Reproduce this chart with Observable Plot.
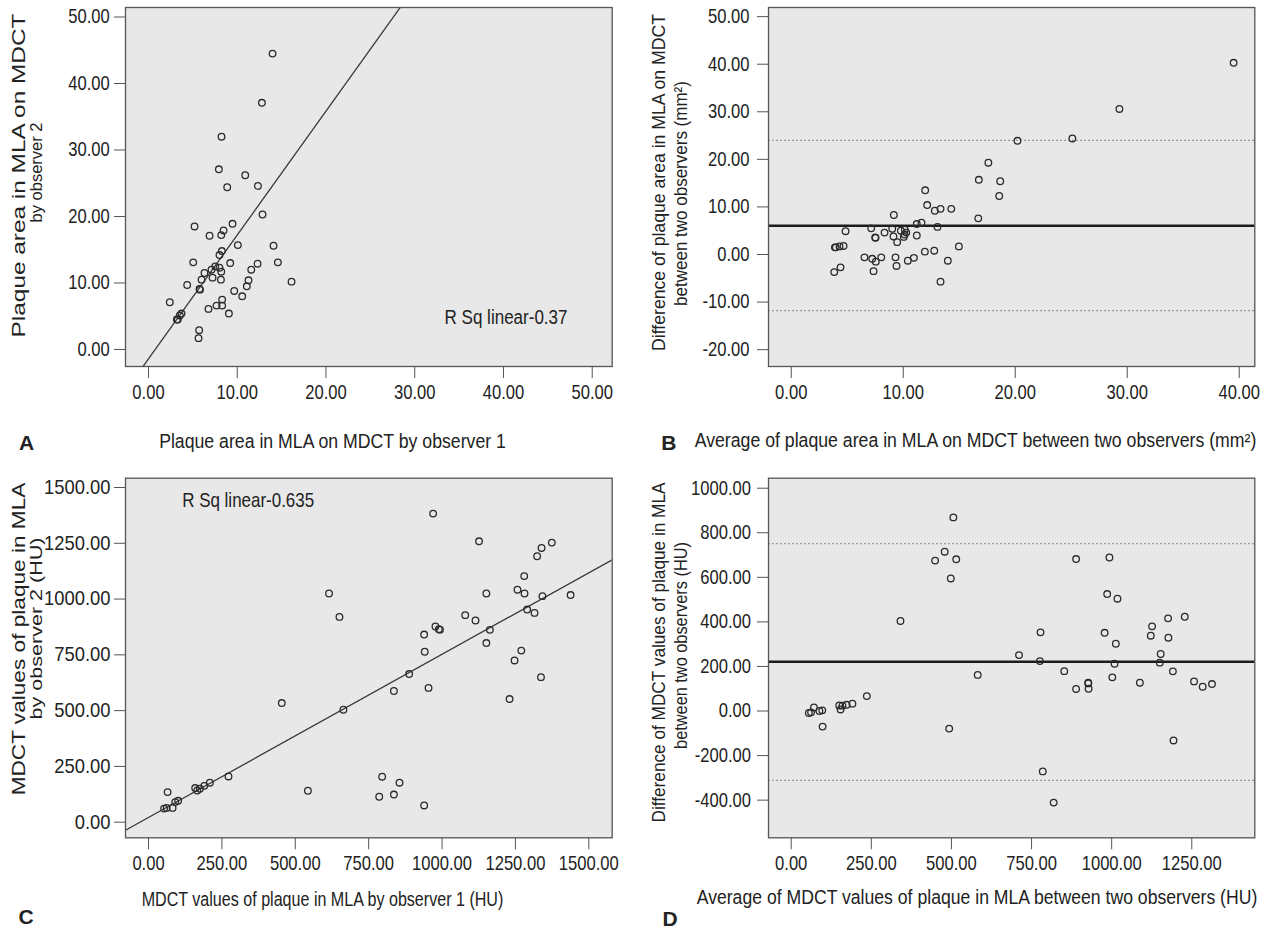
<!DOCTYPE html>
<html>
<head>
<meta charset="utf-8">
<script src="https://cdn.jsdelivr.net/npm/d3@7"></script>
<script src="https://cdn.jsdelivr.net/npm/@observablehq/plot@0.6"></script>
<style>
  body { margin: 0; background: #fff; }
  #fig { position: relative; width: 1264px; height: 932px; overflow: hidden; }
  #fig > svg { position: absolute; }
</style>
</head>
<body>
<div id="fig"></div>
<script>
// ---------- Panel A: plaque area, observer 1 vs observer 2 ----------
const aObs1 = [13.98, 12.78, 8.23, 7.93, 10.9, 12.33, 8.87, 12.85, 5.19, 9.47, 8.46, 8.2, 6.88, 10.07, 14.09, 8.27, 8.0, 5.04, 9.21, 14.58, 12.29, 7.52, 8.0, 7.1, 6.31, 11.58, 8.2, 7.22, 5.98, 8.16, 11.27, 16.12, 4.36, 11.08, 5.75, 5.8, 9.66, 10.56, 2.4, 8.3, 6.76, 7.67, 8.3, 9.06, 3.72, 3.53, 3.3, 3.2, 5.71, 5.64];
const aObs2 = [44.5, 37.1, 32.0, 27.1, 26.2, 24.6, 24.4, 20.3, 18.5, 18.9, 17.9, 17.2, 17.1, 15.7, 15.6, 14.8, 14.2, 13.1, 13.0, 13.1, 12.9, 12.5, 12.3, 12.0, 11.5, 12.0, 11.7, 10.8, 10.5, 10.5, 10.4, 10.2, 9.7, 9.5, 9.1, 9.0, 8.8, 8.0, 7.1, 7.5, 6.1, 6.6, 6.6, 5.4, 5.4, 5.1, 4.5, 4.5, 2.9, 1.7];
const aFit = {intercept: -1.41, slope: 1.863};
const aRsq = "R Sq linear-0.37";
const aXTicks = [0, 10, 20, 30, 40, 50];
const aYTicks = [0, 10, 20, 30, 40, 50];

// ---------- Panel B: Bland-Altman, plaque area ----------
const bAvg  = [39.5, 29.3, 25.1, 20.2, 17.6, 16.75, 18.66, 18.57, 11.96, 12.14, 12.82, 13.33, 14.29, 9.16, 16.7, 11.21, 11.63, 13.06, 7.14, 9.02, 10.14, 9.79, 4.85, 8.33, 10.27, 10.12, 9.13, 11.21, 10.05, 7.5, 7.53, 9.46, 4.67, 4.31, 3.98, 3.9, 14.97, 12.77, 11.93, 6.54, 7.23, 8.04, 9.31, 7.55, 10.95, 10.41, 13.98, 9.4, 4.4, 7.35, 3.84, 13.33];
const bDiff = [40.3, 30.6, 24.4, 23.9, 19.3, 15.7, 15.4, 12.3, 13.5, 10.4, 9.2, 9.6, 9.6, 8.3, 7.6, 6.4, 6.7, 5.8, 5.5, 5.4, 5.2, 5.0, 4.9, 4.6, 4.6, 4.2, 3.8, 4.0, 3.7, 3.6, 3.5, 2.6, 1.8, 1.7, 1.5, 1.5, 1.7, 0.8, 0.6, -0.6, -0.9, -0.6, -0.6, -1.5, -0.7, -1.3, -1.3, -2.4, -2.7, -3.5, -3.7, -5.7];
const bLimits = {mean: 6.03, upper: 24.0, lower: -11.8};
const bXTicks = [0, 10, 20, 30, 40];
const bYTicks = [-20, -10, 0, 10, 20, 30, 40, 50];

// ---------- Panel C: MDCT values (HU), observer 1 vs observer 2 ----------
const cObs1 = [969.6, 1126, 1374, 1339, 1324, 1280, 1257, 1281, 1151, 615, 1342, 1438, 650.5, 1079, 1114, 1290, 1315, 977.5, 989, 993, 1163, 939, 1151, 941, 1270, 1247, 888, 1337, 954, 836, 1230, 454, 664, 272.5, 796, 855, 209, 190, 159, 175, 166, 543, 65, 836, 786, 939, 101, 91, 82, 62, 53];
const cObs2 = [1383, 1259, 1253, 1229, 1192, 1103, 1042, 1025, 1025, 1025, 1013, 1018, 920, 928, 904, 953, 938, 877, 865, 863, 862, 841, 803, 764, 769, 725, 664, 650, 602, 588, 552, 534, 504, 205, 204, 177, 177, 163, 153, 150, 142, 141, 135, 124, 114, 75, 96, 90, 64, 64, 61];
const cFit = {intercept: 21.2, slope: 0.731};
const cRsq = "R Sq linear-0.635";
const cXTicks = [0, 250, 500, 750, 1000, 1250, 1500];
const cYTicks = [0, 250, 500, 750, 1000, 1250, 1500];

// ---------- Panel D: Bland-Altman, MDCT values (HU) ----------
const dAvg  = [506, 479, 449, 515, 498, 889, 993, 986, 1018, 341, 1228, 1176, 1126, 778, 978, 1122, 1177, 1013, 711, 1153, 776, 1150, 1009, 852, 1191, 582, 1002, 927, 927, 1088, 1257, 889, 928, 1284, 1313, 236, 191, 173, 150, 160, 154, 71, 97, 88, 62, 55, 98, 493, 1193, 785, 819];
const dDiff = [869, 715, 675, 681, 595, 682, 689, 525, 504, 404, 423, 416, 380, 353, 351, 338, 329, 302, 251, 256, 224, 217, 212, 179, 178, 162, 151, 127, 124, 127, 133, 99, 100, 109, 121, 67, 33, 28, 25, 24, 7, 16, 3, 0, -6, -9, -70, -79, -132, -271, -411];
const dLimits = {mean: 221, upper: 751, lower: -311};
const dXTicks = [0, 250, 500, 750, 1000, 1250];
const dYTicks = [-400, -200, 0, 200, 400, 600, 800, 1000];

// ---------- layout ----------
const FONT = "'Liberation Sans', Arial, Helvetica, sans-serif";
const TICK_SQUEEZE = 0.83;

const panels = [
  {
    left: 0, top: 0, x: aObs1, y: aObs2, fit: aFit,
    xDomain: [-2.59, 52.25], yDomain: [-2.56, 51.43], xTicks: aXTicks, yTicks: aYTicks,
    mL: 125, mR: 20.3, mT: 7, mB: 100, yPad: 4.7, ySqueeze: 0.83,
    note: {text: aRsq, x: 33.36, y: 3.76, len: 123},
    labels: [
      {text: "Plaque area in MLA on MDCT", px: 24.4, py: 175, rot: -90, len: 324, size: 18},
      {text: "by observer 2", px: 41, py: 172, rot: -90, len: 100, size: 17},
      {text: "Plaque area in MLA on MDCT by observer 1", px: 332, py: 447, len: 347, size: 19.5},
      {text: "A", px: 18.4, py: 449, anchor: "start", bold: true, size: 21}
    ]
  },
  {
    left: 632, top: 0, x: bAvg, y: bDiff, limits: bLimits,
    xDomain: [-2.03, 41.39], yDomain: [-23.54, 51.92], xTicks: bXTicks, yTicks: bYTicks,
    mL: 136, mR: 9.7, mT: 7, mB: 100, yPad: 8, ySqueeze: 0.83,
    labels: [
      {text: "Difference of plaque area in MLA on MDCT", px: 32.4, py: 182, rot: -90, len: 337, size: 18},
      {text: "between two observers (mm²)", px: 54.5, py: 193, rot: -90, len: 225, size: 18},
      {text: "Average of plaque area in MLA on MDCT between two observers (mm²)", px: 343, py: 446, len: 562, size: 19.5},
      {text: "B", px: 28.7, py: 449, anchor: "start", bold: true, size: 21}
    ]
  },
  {
    left: 0, top: 466, x: cObs1, y: cObs2, fit: cFit,
    xDomain: [-78.4, 1579.7], yDomain: [-69.9, 1541.7], xTicks: cXTicks, yTicks: cYTicks,
    mL: 125, mR: 20.3, mT: 11.7, mB: 94.7, yPad: 4, ySqueeze: 0.92,
    note: {text: cRsq, x: 114.8, y: 1411.7, len: 132},
    labels: [
      {text: "MDCT values of plaque in MLA", px: 24.4, py: 172.5, rot: -90, len: 313, size: 18},
      {text: "by observer 2 (HU)", px: 41, py: 162, rot: -90, len: 182, size: 17},
      {text: "MDCT values of plaque in MLA by observer 1 (HU)", px: 322, py: 439, len: 362, size: 19.5},
      {text: "C", px: 18, py: 457, anchor: "start", bold: true, size: 21}
    ]
  },
  {
    left: 632, top: 466, x: dAvg, y: dDiff, limits: dLimits,
    xDomain: [-70.8, 1446.6], yDomain: [-569, 1044.9], xTicks: dXTicks, yTicks: dYTicks,
    mL: 136, mR: 9.7, mT: 11.7, mB: 94.7, yPad: 6.5, ySqueeze: 0.83,
    labels: [
      {text: "Difference of MDCT values of plaque in MLA", px: 32.4, py: 186, rot: -90, len: 340, size: 18},
      {text: "between two observers (HU)", px: 54.5, py: 179, rot: -90, len: 207, size: 18},
      {text: "Average of MDCT values of plaque in MLA between two observers (HU)", px: 344.5, py: 437, len: 561, size: 19.5},
      {text: "D", px: 30, py: 459, anchor: "start", bold: true, size: 21}
    ]
  }
];

const fmt = d => d.toFixed(2);

function build(p) {
  const pts = p.x.map((v, i) => ({x: v, y: p.y[i]}));
  const marks = [
    Plot.frame({fill: "#e8e8e8", stroke: null}),
    Plot.axisX(p.xTicks, {tickFormat: fmt, tickSize: 12, tickPadding: 6, fontSize: 20, label: null, stroke: "#555"}),
    Plot.axisY(p.yTicks, {tickFormat: fmt, tickSize: 11, tickPadding: p.yPad, fontSize: 20, label: null, stroke: "#555"})
  ];
  if (p.fit) {
    const line = p.xDomain.map(x => ({x, y: p.fit.intercept + p.fit.slope * x}));
    marks.push(Plot.line(line, {x: "x", y: "y", stroke: "#3a3a3a", strokeWidth: 1.3, clip: true}));
  }
  if (p.limits) {
    marks.push(Plot.ruleY([p.limits.upper, p.limits.lower], {stroke: "#9c9c9c", strokeWidth: 1.3, strokeDasharray: "2,2"}));
    marks.push(Plot.ruleY([p.limits.mean], {stroke: "#1c1c1c", strokeWidth: 2.6}));
  }
  marks.push(Plot.dot(pts, {x: "x", y: "y", r: 3.3, stroke: "#2b2b2b", strokeWidth: 1.3, fill: "none"}));
  if (p.note) {
    marks.push(Plot.text([p.note], {x: "x", y: "y", text: "text", textAnchor: "start", lineAnchor: "bottom", fontSize: 20, fill: "#222"}));
  }
  for (const L of p.labels) {
    marks.push(Plot.text([L], {
      text: "text", frameAnchor: "top-left", dx: L.px - p.mL, dy: L.py - p.mT,
      rotate: L.rot || 0, textAnchor: L.anchor || "middle", lineAnchor: "bottom",
      fontSize: L.size, fontWeight: L.bold ? "bold" : "normal", fill: "#222"
    }));
  }
  marks.push(Plot.frame({stroke: "#555", strokeWidth: 1.3}));

  const svg = Plot.plot({
    width: 632, height: 466,
    marginLeft: p.mL, marginRight: p.mR, marginTop: p.mT, marginBottom: p.mB,
    x: {domain: p.xDomain}, y: {domain: p.yDomain},
    style: {fontFamily: FONT, fontSize: "20px", color: "#222", background: "transparent", overflow: "visible"},
    marks
  });
  svg.style.left = p.left + "px";
  svg.style.top = p.top + "px";
  return svg;
}

function finish(svg, p) {
  const lab = new Map();
  for (const L of p.labels) lab.set(L.text, L);
  if (p.note) lab.set(p.note.text, p.note);
  const addScale = (t, k) => {
    const tr = t.getAttribute("transform");
    if (tr) t.setAttribute("transform", tr + ` scale(${k},1)`);
    else {
      const x = parseFloat(t.getAttribute("x")) || 0;
      t.setAttribute("transform", `translate(${x},0) scale(${k},1) translate(${-x},0)`);
    }
  };
  svg.querySelectorAll("text").forEach(t => {
    const L = lab.get(t.textContent);
    if (L) {
      if (L.len) {
        const nat = t.getComputedTextLength();
        if (nat > 0) addScale(t, L.len / nat);
      }
      return;
    }
    const isY = !!t.closest('[aria-label^="y-axis"]');
    addScale(t, isY ? p.ySqueeze : TICK_SQUEEZE);
  });
}

const fig = document.getElementById("fig");
for (const p of panels) {
  const svg = build(p);
  fig.appendChild(svg);
  finish(svg, p);
}
</script>
</body>
</html>
